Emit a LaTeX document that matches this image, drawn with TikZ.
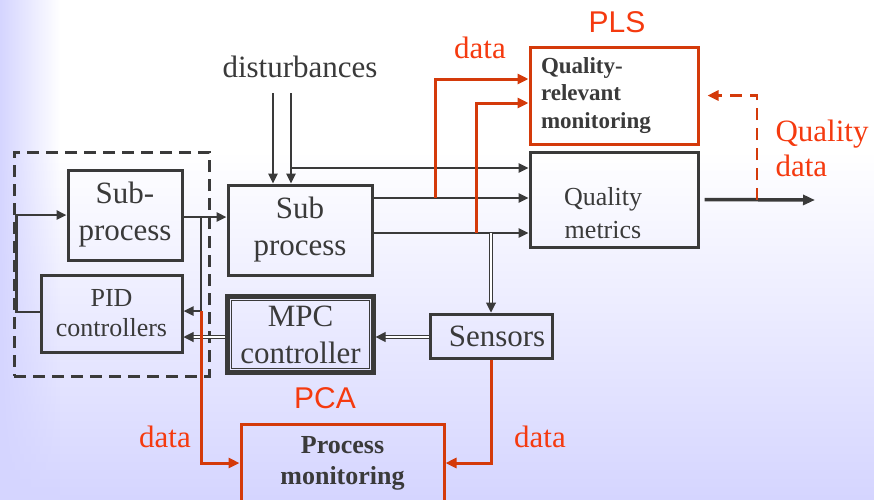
\documentclass[tikz,border=0pt]{standalone}
\usepackage{fontspec}
\setmainfont{Liberation Serif}
\newfontfamily\plsfont{Liberation Sans}
\usetikzlibrary{arrows.meta,fadings}
\definecolor{ink}{RGB}{58,58,58}
\definecolor{rust}{RGB}{212,58,10}
\definecolor{rusttext}{RGB}{245,58,15}
\definecolor{lavender}{RGB}{213,213,255}
\tikzset{
  blk/.style={draw=ink, line width=3pt, text=ink, align=center, inner sep=0pt,
    font=\fontsize{31}{37}\selectfont},
  redblk/.style={blk, draw=rust, font=\bfseries\fontsize{23}{27.5}\selectfont},
  wire/.style={draw=ink, line width=2.4pt},
  arr/.style={wire, -{Triangle[length=10pt,width=9pt]}},
  dblarr/.style={draw=ink, line width=1pt, double=white, double distance=1.8pt,
    -{Triangle[length=10pt,width=10pt]}},
  redarr/.style={draw=rust, line width=3pt, -{Triangle[length=11pt,width=10pt]}},
  redtxt/.style={text=rusttext, font=\fontsize{31}{35}\selectfont},
  acro/.style={text=rusttext, font=\plsfont\fontsize{30}{34}\selectfont}
}
\begin{document}
\begin{tikzpicture}[x=1pt,y=-1pt]
%%% background
\useasboundingbox (0,0) rectangle (874,499);
\fill[white] (0,0) rectangle (874,499);
\shade[top color=white,bottom color=lavender] (0,150) rectangle (874,499);
\fill[lavender,path fading=east] (0,0) rectangle (60,499);
%%% the inner control loop
\node[draw=ink, line width=3pt, dash pattern=on 12pt off 7pt,
  minimum width=195pt, minimum height=224pt] (loop) at (111.5,264) {};
\node[blk, minimum width=114pt, minimum height=90pt] (subA) at (125,215) {Sub-\\process};
\node[blk, minimum width=141pt, minimum height=77pt,
  font=\fontsize{26}{30}\selectfont] (pid) at (111.5,313.5) {PID\\controllers};
%%% the plant
\node[blk, minimum width=144pt, minimum height=90pt] (subB) at (300,230) {Sub\\process};
\node[text=ink, font=\fontsize{31}{37}\selectfont] (dist) at (300,67) {disturbances};
\coordinate (d1) at (273,93);
\coordinate (d2) at (291,93);
\node[blk, line width=4.2pt, minimum width=146pt, minimum height=76pt] (mpc) at (300.5,334.5) {MPC\\controller};
\draw[ink, line width=1.2pt] ([shift={(6pt,-6pt)}]mpc.north west) rectangle ([shift={(-6pt,6pt)}]mpc.south east);
\node[blk, minimum width=122pt, minimum height=44pt] (sensors) at (491,336) {\hspace*{12pt}Sensors};
\node[blk, minimum width=168pt, minimum height=95pt] (qm) at (614,199.5) {};
\node[text=ink, align=center, font=\fontsize{26}{33}\selectfont] (qmtext) at (603,213) {Quality\\metrics};
%%% monitoring blocks
\node[redblk, minimum width=168pt, minimum height=97pt, align=left,
  text width=146pt, inner xsep=11pt] (qrm) at (614,95.5) {Quality-\\relevant\\monitoring};
\node[redblk, minimum width=203pt, minimum height=78pt,
  font=\bfseries\fontsize{26}{31}\selectfont] (pm) at (342.5,463) {Process\\monitoring};
\node[acro] (pls) at (617,22) {PLS};
\node[acro] (pca) at (325,398) {PCA};
\node[redtxt] (dataA) at (480,48) {data};
\node[redtxt] (dataB) at (165,437) {data};
\node[redtxt] (dataC) at (540,437) {data};
\node[redtxt, anchor=west, align=left] (qdata) at (772,148) {Quality\\data};
\coordinate (qout) at (815,200);
%%% connectors
\draw[arr] (d1) -- (d1 |- subB.north);
\draw[arr] (d2) -- (d2 |- subB.north);
\draw[arr] (d2 |- 0,168) -- (qm.west |- 0,168);
\draw[arr] (subB.east |- 0,198) -- (qm.west |- 0,198);
\draw[arr] (subB.east |- 0,233) -- (qm.west |- 0,233);
\draw[arr] (subA.east |- 0,217) -- (subB.west |- 0,217);
\draw[arr] (201,217) |- (pid.east |- 0,311);
\draw[arr] (pid.west |- 0,312) -| ([xshift=-23pt]pid.west |- subA.west) -- (subA.west);
\draw[dblarr] (sensors.north |- 0,233) -- (sensors.north);
\draw[dblarr] (sensors.west |- 0,337) -- (mpc.east |- 0,337);
\draw[dblarr] (mpc.west |- 0,337) -- (pid.east |- 0,337);
\draw[draw=ink, line width=3.5pt, -{Triangle[length=12pt,width=10pt]}] ([xshift=5pt]qm.east) -- (qout);
\draw[redarr] (435,198) |- (qrm.west |- 0,79);
\draw[redarr] (476,233) |- (qrm.west |- 0,103);
\draw[redarr, line width=2.6pt, dash pattern=on 12pt off 8pt] (757,200) |- ([xshift=8pt]qrm.east);
\draw[redarr] (201,311) |- (pm.west |- 0,463);
\draw[redarr] (sensors.south) |- (pm.east |- 0,463);
\end{tikzpicture}
\end{document}
